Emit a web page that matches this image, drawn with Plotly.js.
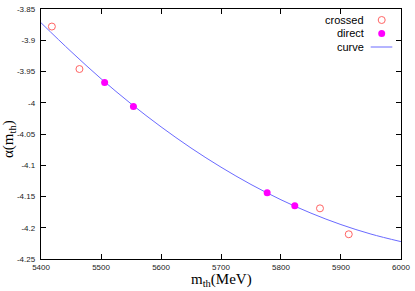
<!DOCTYPE html>
<html>
<head>
<meta charset="utf-8">
<script src="https://cdn.plot.ly/plotly-3.0.1.min.js"></script>
<style>html,body{margin:0;padding:0;background:#fff;}#chart{width:415px;height:291px;}</style>
</head>
<body>
<div id="chart"></div>
<script>
// Data
const crossedX = [5418, 5464, 5865, 5913];
const crossedY = [-3.878, -3.946, -4.169, -4.2105];
const directX = [5506, 5554, 5777, 5823];
const directY = [-3.9674, -4.0058, -4.144, -4.165];
const curveX = [5400, 5450, 5500, 5550, 5600, 5650, 5700, 5750, 5800, 5850, 5900, 5950, 6000];
const curveY = [-3.872, -3.918, -3.9615, -4.0016, -4.0385, -4.0724, -4.1031, -4.1308, -4.1553, -4.1767, -4.195, -4.2102, -4.2223];
const xTicks = [5400, 5500, 5600, 5700, 5800, 5900, 6000];
const xTickText = ["5400", "5500", "5600", "5700", "5800", "5900", "6000"];
const yTicks = [-3.85, -3.9, -3.95, -4, -4.05, -4.1, -4.15, -4.2, -4.25];
const yTickText = ["-3.85", "-3.9", "-3.95", "-4", "-4.05", "-4.1", "-4.15", "-4.2", "-4.25"];
const legendNames = ["crossed", "direct", "curve"];

const cCrossed = "#ff6464";
const cDirect = "#ff00ff";
const cCurve = "#6a6aff";

const traces = [
  {x: curveX, y: curveY, mode: "lines", name: legendNames[2], line: {color: cCurve, width: 1, shape: "spline"}, hoverinfo: "skip"},
  {x: crossedX, y: crossedY, mode: "markers", name: legendNames[0], marker: {symbol: "circle-open", size: 7, color: cCrossed, line: {width: 1, color: cCrossed}}},
  {x: directX, y: directY, mode: "markers", name: legendNames[1], marker: {symbol: "circle", size: 7, color: cDirect}}
];

const axisCommon = {
  showgrid: false, zeroline: false, showline: true, linecolor: "#000", linewidth: 1.2,
  mirror: "ticks", ticks: "inside", ticklen: 5, tickcolor: "#000", tickwidth: 1,
  tickfont: {family: "Liberation Sans, Arial, sans-serif", size: 8, color: "#222"},
  tickmode: "array", automargin: false, fixedrange: true
};

const pxX = p => (p - 41) / 360;
const pxY = p => (259 - p) / 250;

const layout = {
  width: 415, height: 291,
  margin: {l: 41, r: 14, t: 9, b: 32, pad: 0},
  paper_bgcolor: "#fff", plot_bgcolor: "#fff",
  showlegend: false,
  xaxis: Object.assign({}, axisCommon, {range: [5399.9, 6000.1], tickvals: xTicks, ticktext: xTickText, ticklabelstandoff: 0}),
  yaxis: Object.assign({}, axisCommon, {range: [-4.2501, -3.8499], tickvals: yTicks, ticktext: yTickText, ticklabelstandoff: 3}),
  annotations: [
    {text: "m<sub>th</sub>(MeV)", xref: "paper", yref: "paper", x: pxX(221), y: pxY(280), xanchor: "center", yanchor: "middle", showarrow: false,
     font: {family: "Liberation Serif, Times New Roman, serif", size: 15, color: "#000"}},
    {text: "α(m<sub>th</sub>)", xref: "paper", yref: "paper", x: pxX(9), y: pxY(139), xanchor: "center", yanchor: "middle", showarrow: false, textangle: -90,
     font: {family: "Liberation Serif, Times New Roman, serif", size: 15, color: "#000"}},
    {text: legendNames[0], xref: "paper", yref: "paper", x: pxX(366), y: pxY(20), xanchor: "right", yanchor: "middle", showarrow: false,
     font: {family: "Liberation Sans, Arial, sans-serif", size: 11, color: "#000"}},
    {text: legendNames[1], xref: "paper", yref: "paper", x: pxX(366), y: pxY(33.5), xanchor: "right", yanchor: "middle", showarrow: false,
     font: {family: "Liberation Sans, Arial, sans-serif", size: 11, color: "#000"}},
    {text: legendNames[2], xref: "paper", yref: "paper", x: pxX(366), y: pxY(47), xanchor: "right", yanchor: "middle", showarrow: false,
     font: {family: "Liberation Sans, Arial, sans-serif", size: 11, color: "#000"}}
  ],
  shapes: [
    {type: "circle", xref: "paper", yref: "paper", xsizemode: "pixel", ysizemode: "pixel", xanchor: pxX(381.7), yanchor: pxY(20),
     x0: -3.5, x1: 3.5, y0: -3.5, y1: 3.5, line: {color: cCrossed, width: 1}, fillcolor: "rgba(0,0,0,0)"},
    {type: "circle", xref: "paper", yref: "paper", xsizemode: "pixel", ysizemode: "pixel", xanchor: pxX(381.7), yanchor: pxY(33.5),
     x0: -3.5, x1: 3.5, y0: -3.5, y1: 3.5, line: {color: cDirect, width: 0}, fillcolor: cDirect},
    {type: "line", xref: "paper", yref: "paper", x0: pxX(370.7), x1: pxX(392.3), y0: pxY(47), y1: pxY(47), line: {color: cCurve, width: 1}}
  ]
};

Plotly.newPlot("chart", traces, layout, {displayModeBar: false, staticPlot: true});
</script>
</body>
</html>
